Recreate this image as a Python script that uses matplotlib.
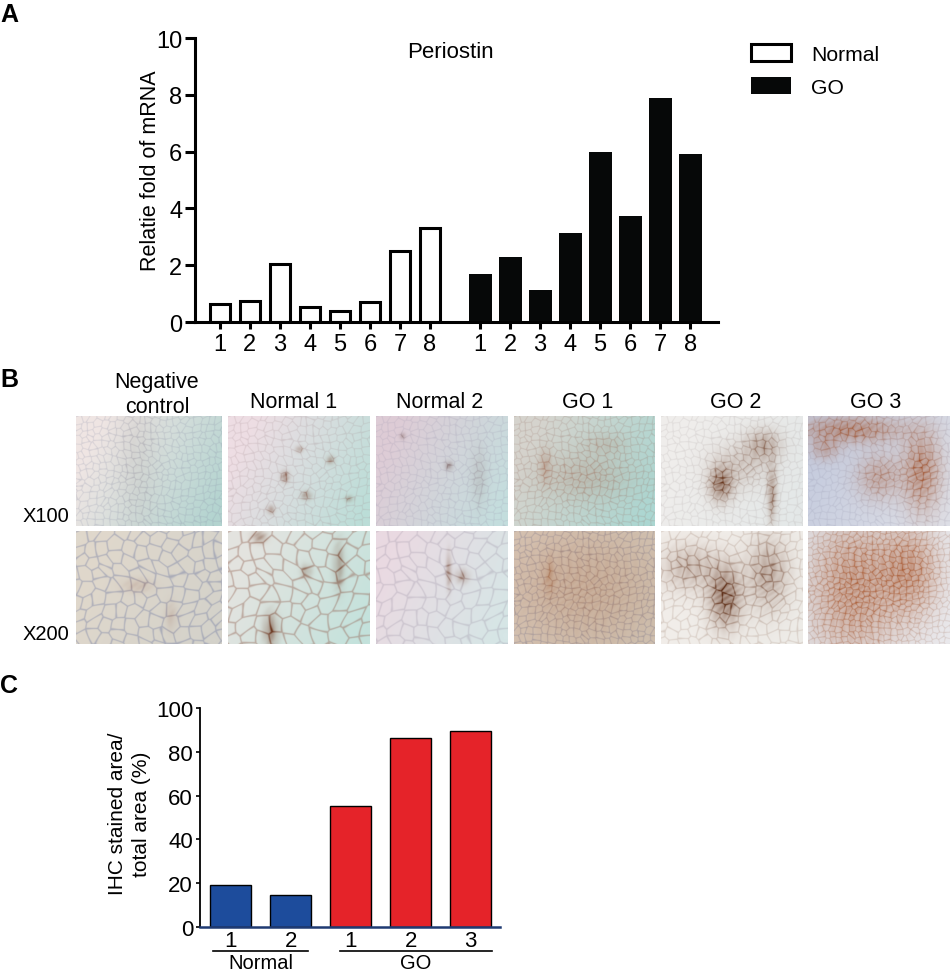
import numpy as np
import matplotlib
matplotlib.use('Agg')
import matplotlib.pyplot as plt

plt.rcParams['font.family'] = ['Liberation Sans', 'DejaVu Sans']

# ---- data ----
# panel A: periostin mRNA, relative fold
sample_labels = ['1', '2', '3', '4', '5', '6', '7', '8']
normal_fold = [0.63, 0.75, 2.04, 0.54, 0.40, 0.71, 2.51, 3.30]
go_fold = [1.69, 2.28, 1.13, 3.12, 5.97, 3.74, 7.88, 5.92]

# panel B: micrograph captions
col_titles = ['Negative\ncontrol', 'Normal 1', 'Normal 2', 'GO 1', 'GO 2', 'GO 3']
row_titles = ['X100', 'X200']

# panel C: IHC stained area / total area (%)
ihc_labels = ['1', '2', '1', '2', '3']
ihc_groups = ['Normal', 'Normal', 'GO', 'GO', 'GO']
ihc_area = [19.2, 14.8, 55.3, 86.3, 89.6]

W, H = 950, 979
fig = plt.figure(figsize=(W / 100, H / 100), dpi=100)


def px_axes(x0, y0, x1, y1):
    return fig.add_axes([x0 / W, 1 - y1 / H, (x1 - x0) / W, (y1 - y0) / H])


# ---------------- panel A ----------------
axA = px_axes(195, 39, 718, 323)
xn = np.arange(len(normal_fold))
xg = np.arange(len(go_fold)) + 8.67
b1 = axA.bar(xn, normal_fold, width=0.68, facecolor='white', edgecolor='black',
             linewidth=2.2, label='Normal')
b2 = axA.bar(xg, go_fold, width=0.77, facecolor='#060808', edgecolor='none', label='GO')
axA.set_xlim(-0.83, 16.6)
axA.set_ylim(0, 10)
axA.set_yticks(range(0, 11, 2))
axA.set_xticks(np.concatenate([xn, xg]))
axA.set_xticklabels(sample_labels + sample_labels)
for s in ['top', 'right']:
    axA.spines[s].set_visible(False)
for s in ['left', 'bottom']:
    axA.spines[s].set_linewidth(2.2)
axA.tick_params(axis='y', length=7, width=2.2, labelsize=17, pad=2)
axA.tick_params(axis='x', length=5, width=2.2, labelsize=17, pad=3)
axA.set_ylabel('Relatie fold of mRNA', fontsize=15.5, rotation_mode='anchor', va='center')
axA.yaxis.set_label_coords(-0.086, 0.535)
axA.text(0.488, 0.954, 'Periostin', transform=axA.transAxes, fontsize=16,
         ha='center', va='center')
axA.legend(handles=[b1, b2], loc='upper left', bbox_to_anchor=(751 / W, 1 - 45 / H),
           bbox_transform=fig.transFigure, frameon=False, fontsize=15.2,
           handlelength=1.9, handleheight=0.85, handletextpad=0.95, labelspacing=0.65,
           borderaxespad=0, borderpad=0)

# ---------------- panel B ----------------
col_x = [(76, 222), (228, 370), (376, 508), (514, 655), (661, 803), (808, 950)]
row_y = [(417, 527), (532, 645)]

# texture settings for each micrograph: background left/right, membrane colour,
# membrane strength, cell size (px), stain blobs (cx, cy, sx, sy, amp), stain colour
tex = [
    [((240, 230, 228), (180, 212, 208), (135, 140, 165), 0.35, 14,
      [(0.42, 0.4, 0.14, 0.7, 0.22)], (140, 120, 120)),
     ((238, 222, 228), (188, 222, 216), (160, 135, 140), 0.30, 16,
      [(0.4, 0.55, 0.03, 0.05, 0.8), (0.55, 0.72, 0.035, 0.04, 0.7),
       (0.3, 0.85, 0.03, 0.04, 0.6), (0.72, 0.4, 0.03, 0.04, 0.6),
       (0.5, 0.3, 0.025, 0.03, 0.6), (0.85, 0.75, 0.03, 0.03, 0.5)], (110, 52, 28)),
     ((222, 204, 214), (196, 222, 222), (150, 145, 170), 0.30, 15,
      [(0.55, 0.45, 0.03, 0.04, 0.7), (0.2, 0.18, 0.025, 0.03, 0.5),
       (0.78, 0.55, 0.06, 0.25, 0.25)], (100, 65, 60)),
     ((214, 212, 206), (172, 215, 210), (150, 115, 105), 0.35, 14,
      [(0.5, 0.55, 0.32, 0.22, 0.45), (0.22, 0.45, 0.04, 0.15, 0.55),
       (0.65, 0.25, 0.15, 0.1, 0.3)], (160, 98, 72)),
     ((240, 238, 236), (228, 232, 232), (165, 155, 155), 0.28, 15,
      [(0.42, 0.62, 0.08, 0.15, 1.0), (0.72, 0.26, 0.12, 0.14, 0.6),
       (0.78, 0.7, 0.035, 0.25, 0.7), (0.55, 0.45, 0.2, 0.2, 0.35)], (100, 48, 22)),
     ((198, 204, 222), (222, 224, 232), (140, 140, 165), 0.28, 14,
      [(0.3, 0.12, 0.35, 0.12, 0.95), (0.8, 0.5, 0.13, 0.35, 1.0),
       (0.5, 0.55, 0.15, 0.2, 0.65), (0.12, 0.3, 0.1, 0.1, 0.55)], (160, 80, 42))],
    [((224, 216, 204), (212, 210, 202), (110, 120, 160), 0.45, 26,
      [(0.42, 0.48, 0.1, 0.06, 0.4), (0.65, 0.75, 0.04, 0.12, 0.35)], (150, 100, 80)),
     ((228, 228, 224), (196, 226, 220), (150, 105, 90), 0.50, 30,
      [(0.78, 0.3, 0.04, 0.2, 0.6), (0.3, 0.88, 0.05, 0.15, 0.85),
       (0.22, 0.05, 0.05, 0.05, 0.8), (0.55, 0.35, 0.04, 0.06, 0.5)], (100, 45, 20)),
     ((234, 218, 226), (214, 230, 230), (150, 140, 160), 0.32, 28,
      [(0.55, 0.35, 0.02, 0.15, 0.7), (0.65, 0.4, 0.05, 0.06, 0.6)], (115, 65, 40)),
     ((214, 196, 180), (208, 194, 178), (100, 110, 150), 0.42, 14,
      [(0.5, 0.5, 0.5, 0.5, 0.55), (0.25, 0.4, 0.04, 0.15, 0.55)], (168, 110, 75)),
     ((242, 238, 234), (238, 236, 232), (170, 145, 130), 0.36, 20,
      [(0.45, 0.58, 0.11, 0.25, 1.1), (0.2, 0.32, 0.2, 0.2, 0.5),
       (0.75, 0.38, 0.14, 0.3, 0.65)], (90, 40, 16)),
     ((226, 228, 234), (234, 234, 238), (150, 105, 85), 0.32, 12,
      [(0.32, 0.5, 0.3, 0.6, 1.0), (0.72, 0.35, 0.2, 0.4, 0.9)], (170, 90, 50))],
]


def cell_hash(ix, iy, k):
    v = np.sin(ix * 127.1 + iy * 311.7 + k * 74.7) * 43758.5453
    return v - np.floor(v)


def tissue(h, w, bg_a, bg_b, line_col, line_amt, cell, blobs, stain_col):
    yy, xx = np.mgrid[0:h, 0:w].astype(float)
    fx, fy = xx / w, yy / h
    t = np.clip((fx + 0.4 * fy - 0.2) / 1.1, 0, 1)[..., None]
    bg = np.array(bg_a) * (1 - t) + np.array(bg_b) * t
    # cellular (voronoi-like) membranes
    gx = xx / cell + 0.35 * np.sin(fy * 9.0)
    gy = yy / cell + 0.35 * np.sin(fx * 7.0)
    ix, iy = np.floor(gx), np.floor(gy)
    d1 = np.full(xx.shape, 9.0)
    d2 = np.full(xx.shape, 9.0)
    for di in (-1, 0, 1):
        for dj in (-1, 0, 1):
            cx, cy = ix + di, iy + dj
            px = cx + 0.15 + 0.7 * cell_hash(cx, cy, 1)
            py = cy + 0.15 + 0.7 * cell_hash(cx, cy, 2)
            d = np.hypot(gx - px, gy - py)
            d2 = np.where(d < d1, d1, np.minimum(d2, d))
            d1 = np.minimum(d1, d)
    net = np.exp(-((d2 - d1) / 0.09) ** 2)[..., None]
    img = bg * (1 - line_amt * net) + np.array(line_col) * line_amt * net
    stain = np.zeros_like(xx)
    for cx, cy, sx, sy, amp in blobs:
        stain += amp * np.exp(-((fx - cx) / sx) ** 2 - ((fy - cy) / sy) ** 2)
    fib = 0.5 + 0.5 * np.sin(47 * fx + 29 * fy + 3 * np.sin(11 * fy)) ** 2
    s = np.clip(stain * (0.45 + 0.55 * fib) * (0.55 + 0.6 * net[..., 0]), 0, 1)[..., None]
    img = img * (1 - s) + np.array(stain_col) * s
    return np.clip(img / 255, 0, 1)


for r, (y0, y1) in enumerate(row_y):
    for c, (x0, x1) in enumerate(col_x):
        ax = px_axes(x0, y0, x1, y1)
        ax.imshow(tissue(2 * (y1 - y0), 2 * (x1 - x0), *tex[r][c]), aspect='auto',
                  interpolation='bilinear')
        ax.axis('off')

title_x = [157, 294, 440, 588, 736, 876]
for cx, tt in zip(title_x, col_titles):
    yc = 395 if '\n' in tt else 402
    fig.text(cx / W, 1 - yc / H, tt, fontsize=15.5, ha='center', va='center',
             linespacing=1.3)
fig.text(23 / W, 1 - 517 / H, row_titles[0], fontsize=14.5, ha='left', va='center')
fig.text(23 / W, 1 - 635 / H, row_titles[1], fontsize=14.5, ha='left', va='center')

# ---------------- panel C ----------------
axC = px_axes(200, 709, 500, 928)
xc = np.arange(len(ihc_area))
cols = ['#1d4c9c' if g == 'Normal' else '#e52329' for g in ihc_groups]
axC.bar(xc, ihc_area, width=0.68, color=cols, edgecolor='black', linewidth=1.0)
axC.set_xlim(-0.51, 4.49)
axC.set_ylim(0, 100)
axC.set_yticks(range(0, 101, 20))
axC.set_xticks(xc)
axC.set_xticklabels(ihc_labels)
for s in ['top', 'right']:
    axC.spines[s].set_visible(False)
axC.spines['left'].set_linewidth(1.3)
axC.spines['bottom'].set_linewidth(1.8)
axC.spines['bottom'].set_color('#1f3a72')
axC.tick_params(axis='y', length=3, width=1.2, labelsize=16, pad=2)
axC.tick_params(axis='x', length=0, labelsize=16, pad=2)
axC.set_ylabel('IHC stained area/\ntotal area (%)', fontsize=15, linespacing=1.3,
               rotation_mode='anchor', va='center')
axC.yaxis.set_label_coords(-0.235, 0.52)

trans = axC.get_xaxis_transform()
for g, (lo, hi) in zip(['Normal', 'GO'], [(-0.29, 1.29), (1.82, 4.36)]):
    axC.plot([lo, hi], [-0.108, -0.108], color='black', lw=1.2, transform=trans,
             clip_on=False)
    axC.text((lo + hi) / 2, -0.117, g, transform=trans, fontsize=14.5,
             ha='center', va='top')

# panel letters
for lab, yp in zip(['A', 'B', 'C'], [15, 380, 686]):
    fig.text(0 / W, 1 - yp / H, lab, fontsize=18, fontweight='bold', ha='left', va='center')

fig.savefig('out.png', dpi=100)
